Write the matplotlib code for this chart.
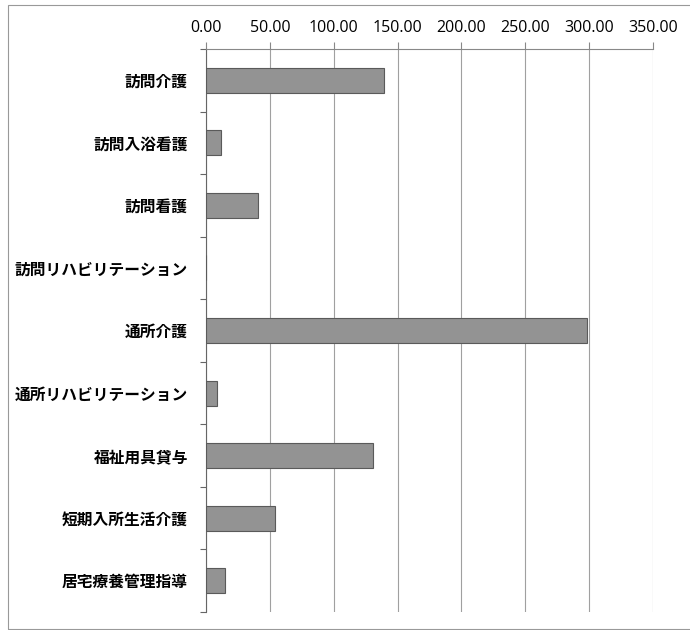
import matplotlib
matplotlib.use("Agg")
import matplotlib.pyplot as plt
from matplotlib.patches import Rectangle
from matplotlib.ticker import FixedLocator

plt.rcParams['font.family'] = ['Noto Sans CJK JP', 'DejaVu Sans']

# サービス種類別の利用件数
services = ["訪問介護", "訪問入浴看護", "訪問看護", "訪問リハビリテーション", "通所介護",
            "通所リハビリテーション", "福祉用具貸与", "短期入所生活介護", "居宅療養管理指導"]
values = [139.0, 12.0, 41.0, 0.0, 298.0, 9.0, 131.0, 54.0, 15.0]
x_ticks = [0, 50, 100, 150, 200, 250, 300, 350]

fig = plt.figure(figsize=(6.9, 6.3), dpi=100)
ax = fig.add_axes([206 / 690, 1 - 612 / 630, (653 - 206) / 690, (612 - 49) / 630])

pos = list(range(len(services)))
ax.barh(pos, values, height=0.4, color='#939393', edgecolor='#5a5a5a', linewidth=0.8, zorder=3)

ax.set_xlim(0, 350)
ax.set_ylim(len(services) - 0.5, -0.5)

ax.xaxis.tick_top()
ax.set_xticks(x_ticks)
ax.set_xticklabels([f"{t:.2f}" for t in x_ticks], family=['Open Sans', 'DejaVu Sans'], fontsize=11.5)
ax.tick_params(axis='x', length=5, width=0.8, color='#888888', pad=4)
ax.grid(axis='x', color='#a0a0a0', linewidth=0.8, zorder=0)

ax.set_yticks(pos)
ax.set_yticklabels(services, fontsize=11.3, fontweight='bold')
ax.tick_params(axis='y', which='major', length=0, pad=13)
ax.yaxis.set_minor_locator(FixedLocator([p - 0.5 for p in pos] + [len(services) - 0.5]))
ax.tick_params(axis='y', which='minor', length=4, width=0.8, color='#666666')

for side in ['right', 'bottom']:
    ax.spines[side].set_visible(False)
ax.spines['top'].set_color('#888888')
ax.spines['top'].set_linewidth(0.8)
ax.spines['left'].set_color('#666666')
ax.spines['left'].set_linewidth(0.8)

# 外枠
fig.add_artist(Rectangle((8 / 690, 1.5 / 630), 1.0, 1 - 6.5 / 630, transform=fig.transFigure,
                         fill=False, edgecolor='#999999', linewidth=0.8))

fig.savefig("out.png", dpi=100)
